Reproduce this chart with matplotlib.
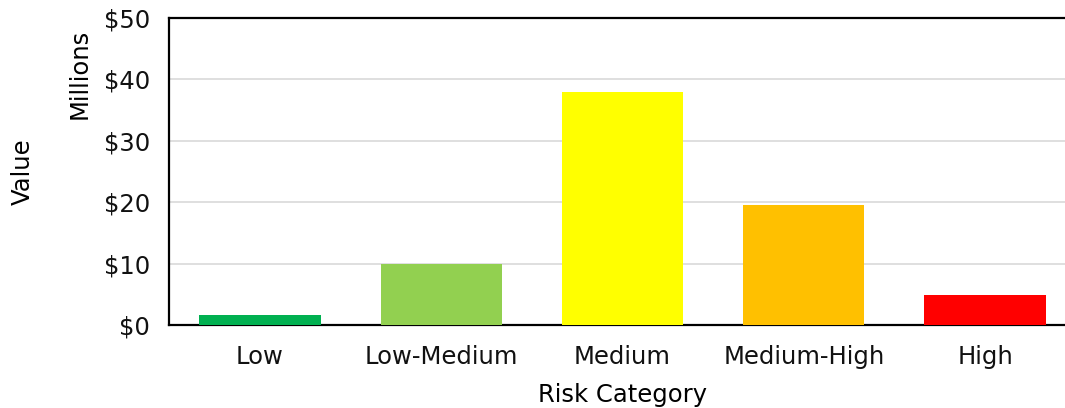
import matplotlib
matplotlib.use("Agg")
import matplotlib.pyplot as plt
from matplotlib.ticker import FuncFormatter

# risk buckets and their total value (millions of dollars)
categories = ["Low", "Low-Medium", "Medium", "Medium-High", "High"]
values_musd = [1.6, 10.0, 38.0, 19.6, 4.9]
bar_colors = ["#00B050", "#92D050", "#FFFF00", "#FFC000", "#FF0000"]
y_ticks = [0, 10, 20, 30, 40, 50]

plt.rcParams["font.family"] = ["DejaVu Sans"]
FS = 17.5

fig = plt.figure(figsize=(10.65, 4.08), dpi=100)
ax = fig.add_axes([0.159, 0.203, 0.851, 0.753])

x = range(len(categories))
ax.bar(x, values_musd, width=0.67, color=bar_colors, zorder=3)

ax.set_xlim(-0.5, len(categories) - 0.5)
ax.set_ylim(0, 50)
ax.set_yticks(y_ticks)
ax.yaxis.set_major_formatter(FuncFormatter(lambda v, _: f"${v:.0f}"))
ax.set_xticks(list(x))
ax.set_xticklabels(categories)

ax.grid(axis="y", color="#D9D9D9", linewidth=1.2, zorder=0)
ax.tick_params(axis="both", length=0, labelsize=FS, colors="#111111")
ax.tick_params(axis="y", pad=14)
ax.tick_params(axis="x", pad=14)

ax.spines["right"].set_visible(False)
for side in ["left", "top", "bottom"]:
    ax.spines[side].set_color("black")
    ax.spines[side].set_linewidth(1.6)

fig.text(0.075, 0.82, "Millions", rotation=90, ha="center", va="center", fontsize=FS)
fig.text(0.021, 0.578, "Value", rotation=90, ha="center", va="center", fontsize=FS)
fig.text(0.585, 0.032, "Risk Category", ha="center", va="center", fontsize=FS)

fig.savefig("out.png", dpi=100)
